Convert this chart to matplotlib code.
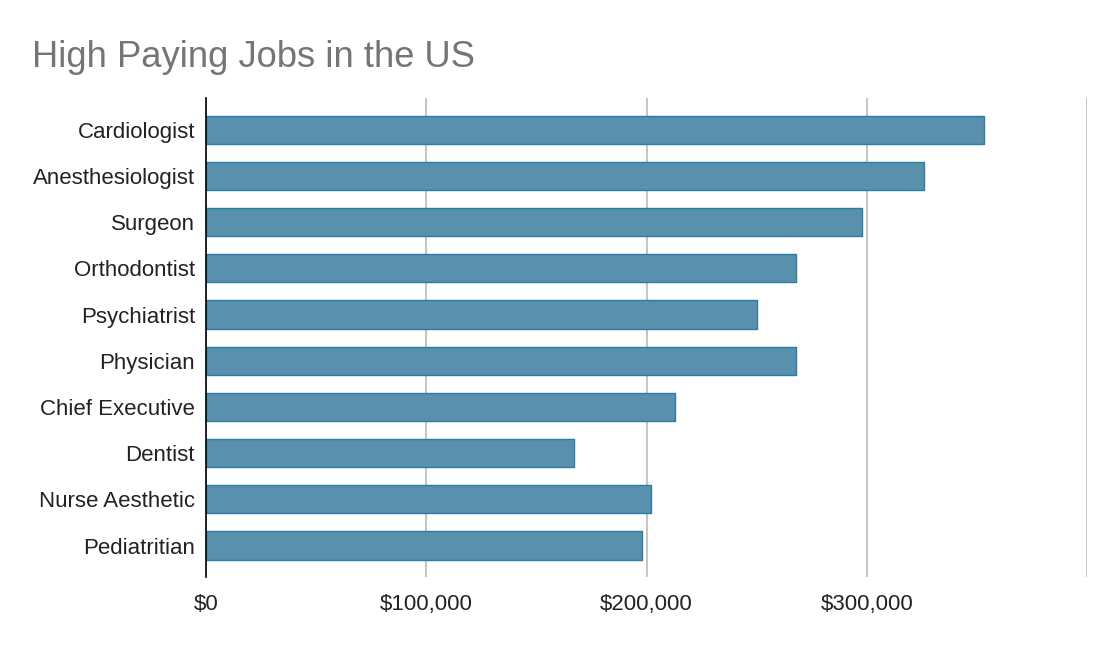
import matplotlib
matplotlib.use('Agg')
import matplotlib.pyplot as plt
from matplotlib.ticker import FuncFormatter

plt.rcParams['font.family'] = ['Liberation Sans', 'DejaVu Sans']

jobs = ['Cardiologist', 'Anesthesiologist', 'Surgeon', 'Orthodontist', 'Psychiatrist',
        'Physician', 'Chief Executive', 'Dentist', 'Nurse Aesthetic', 'Pediatritian']
salaries = [353000, 326000, 298000, 268000, 250000, 268000, 213000, 167000, 202000, 198000]
x_ticks = [0, 100000, 200000, 300000, 400000]

fig = plt.figure(figsize=(11.2, 6.48), dpi=100)
ax = fig.add_axes([0.184, 0.1096, 0.7866, 0.7394])

ypos = list(range(len(jobs)))
ax.barh(ypos, salaries, height=0.61, color='#5990ae', edgecolor='#2b7ea3',
        linewidth=1.0, joinstyle='round', zorder=3)

ax.set_ylim(len(jobs) - 0.32, -0.69)
ax.set_xlim(0, 400000)
ax.set_yticks(ypos)
ax.set_yticklabels(jobs, fontsize=16, color='#222222')
ax.set_xticks(x_ticks)
ax.xaxis.set_major_formatter(FuncFormatter(lambda v, p: '' if v >= 400000 else f'${v:,.0f}'))
ax.tick_params(axis='x', labelsize=16, labelcolor='#222222', length=0, pad=12)
ax.tick_params(axis='y', length=0, pad=8)

ax.grid(axis='x', color='#c6c6c6', linewidth=1.5, zorder=0)
for s in ['top', 'right', 'bottom']:
    ax.spines[s].set_visible(False)
ax.spines['left'].set_color('#000000')
ax.spines['left'].set_linewidth(1.2)
ax.spines['left'].set_zorder(4)

fig.text(0.029, 0.912, 'High Paying Jobs in the US', fontsize=26.2, color='#757575',
         ha='left', va='center')

fig.savefig('out.png', dpi=100, facecolor='white')
